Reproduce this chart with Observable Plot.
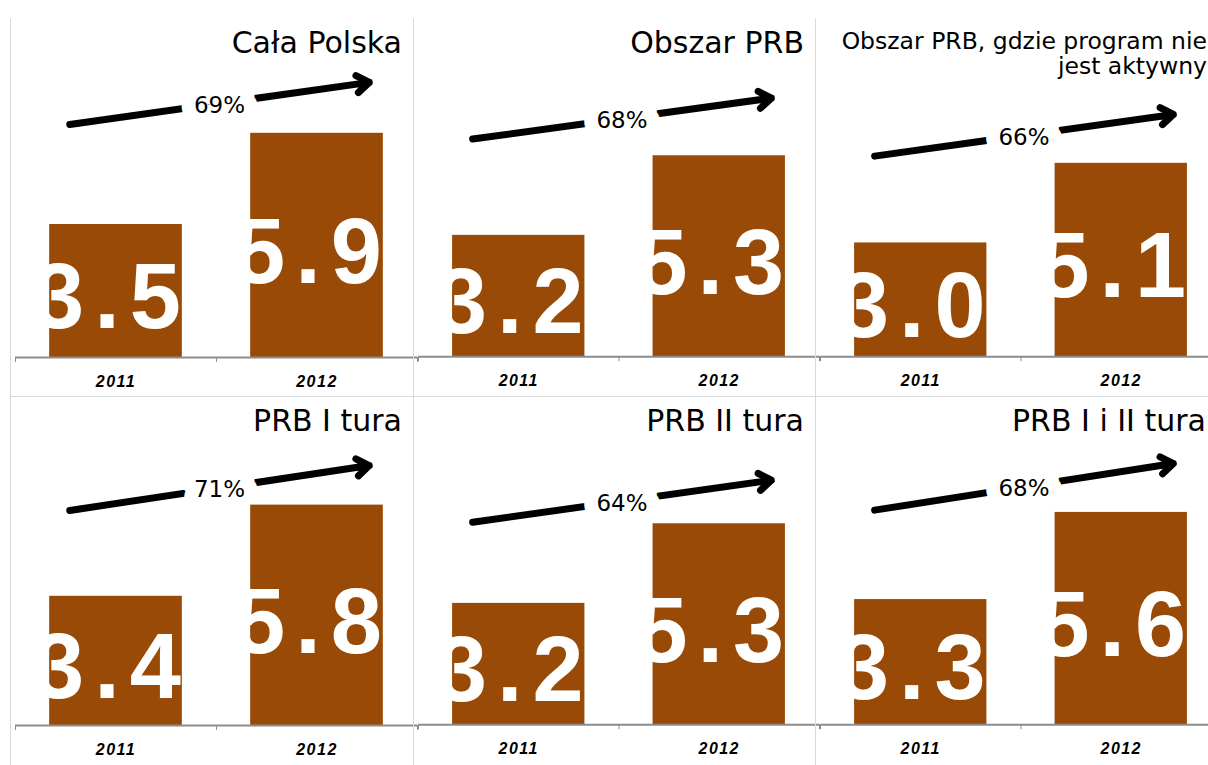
<!DOCTYPE html>
<html><head><meta charset="utf-8">
<script src="https://cdn.jsdelivr.net/npm/d3@7"></script>
<script src="https://cdn.jsdelivr.net/npm/@observablehq/plot@0.6"></script>
<style>
html,body{margin:0;padding:0;background:#fff;width:1208px;height:765px;overflow:hidden;}
#wrap{position:relative;width:1208px;height:765px;}
.panel{position:absolute;box-sizing:border-box;border-left:1.5px solid #d9d9d9;}
.panel.top{border-bottom:1.5px solid #d9d9d9;}
.panel svg{position:absolute;left:4px;top:0;overflow:visible;}
.title{position:absolute;right:11px;top:10px;font-family:"DejaVu Sans",Verdana,sans-serif;font-size:30px;line-height:1;text-align:right;white-space:pre;color:#000;z-index:2;}
.title.small{font-size:23.5px;line-height:25px;top:11px;right:10px;}
g[font-size="92"] text{letter-spacing:10px;}
g[font-size="16"] text{letter-spacing:1.5px;}
</style></head><body><div id="wrap"></div><script>
const panelTitles = ["Cała Polska", "Obszar PRB", "Obszar PRB, gdzie program nie\njest aktywny", "PRB I tura", "PRB II tura", "PRB I i II tura"];
const years = [2011, 2012];
const values2011 = [3.5, 3.2, 3.0, 3.4, 3.2, 3.3];
const values2012 = [5.9, 5.3, 5.1, 5.8, 5.3, 5.6];
const growth = ["69%", "68%", "66%", "71%", "64%", "68%"];
const arrowFrom = [6.13, 5.74, 5.29, 5.66, 5.34, 5.66];
const arrowTo = [7.24, 6.82, 6.39, 6.84, 6.45, 6.89];

const PX_PER_UNIT = 38;
const colLeft = [10, 413, 815];
const colWidth = [403, 402, 402];
const rowTop = [18, 396];
const rowHeight = [378, 369];
const rowMarginBottom = [39, 40];

function panelPlot(i, h, mb) {
  const rows = years.map((yr, j) => ({year: yr, value: j === 0 ? values2011[i] : values2012[i]}));
  const ymax = (h - mb) / PX_PER_UNIT;
  const arrow = [{x1: years[0] - 0.23, x2: years[1] + 0.26, y1: arrowFrom[i], y2: arrowTo[i], label: growth[i]}];
  return Plot.plot({
    width: 402, height: h,
    marginTop: 0, marginBottom: mb, marginLeft: 0, marginRight: 0,
    x: {domain: [2010.5, 2012.5], label: null},
    y: {domain: [0, ymax], axis: null, label: null},
    style: {background: "transparent", overflow: "visible", fontFamily: "DejaVu Sans"},
    marks: [
      Plot.arrow(arrow, {x1: "x1", y1: "y1", x2: "x2", y2: "y2", stroke: "black", strokeWidth: 7, headLength: 3.2, headAngle: 70}),
      Plot.text(arrow, {x: d => (d.x1 + d.x2) / 2, y: d => (d.y1 + d.y2) / 2, text: "label", fontSize: 23, fill: "black", stroke: "white", strokeWidth: 28, fontFamily: "DejaVu Sans", dy: 2}),
      Plot.rectY(rows, {x1: d => d.year - 0.33, x2: d => d.year + 0.33, y: "value", fill: "#994A06"}),
      Plot.text(rows, {x: "year", y: d => d.value / 2, text: d => d.value.toFixed(1), fill: "white", fontSize: 92, fontWeight: "bold", fontFamily: "Liberation Sans, Arial", dy: 8, dx: -4}),
      Plot.ruleY([0], {stroke: "#8c8c8c", strokeWidth: 2}),
      Plot.axisX({ticks: [2010.5, 2011.5, 2012.5], tickFormat: () => "", tickSize: 5, stroke: "#8c8c8c", label: null}),
      Plot.axisX({ticks: years, tickSize: 0, tickPadding: 18, tickFormat: d => String(d), fontSize: 16, fontWeight: "bold", fontStyle: "italic", fontFamily: "Liberation Sans, Arial", fill: "black", label: null})
    ]
  });
}

const wrap = document.getElementById("wrap");
for (let i = 0; i < 6; i++) {
  const r = Math.floor(i / 3), c = i % 3;
  const div = document.createElement("div");
  div.className = "panel" + (r === 0 ? " top" : "");
  div.style.left = colLeft[c] + "px";
  div.style.top = rowTop[r] + "px";
  div.style.width = colWidth[c] + "px";
  div.style.height = (rowHeight[r] + (r === 0 ? 1 : 0)) + "px";
  div.appendChild(panelPlot(i, rowHeight[r], rowMarginBottom[r]));
  const t = document.createElement("div");
  t.className = "title" + (panelTitles[i].includes("\n") ? " small" : "");
  t.textContent = panelTitles[i];
  div.appendChild(t);
  wrap.appendChild(div);
}
</script></body></html>
